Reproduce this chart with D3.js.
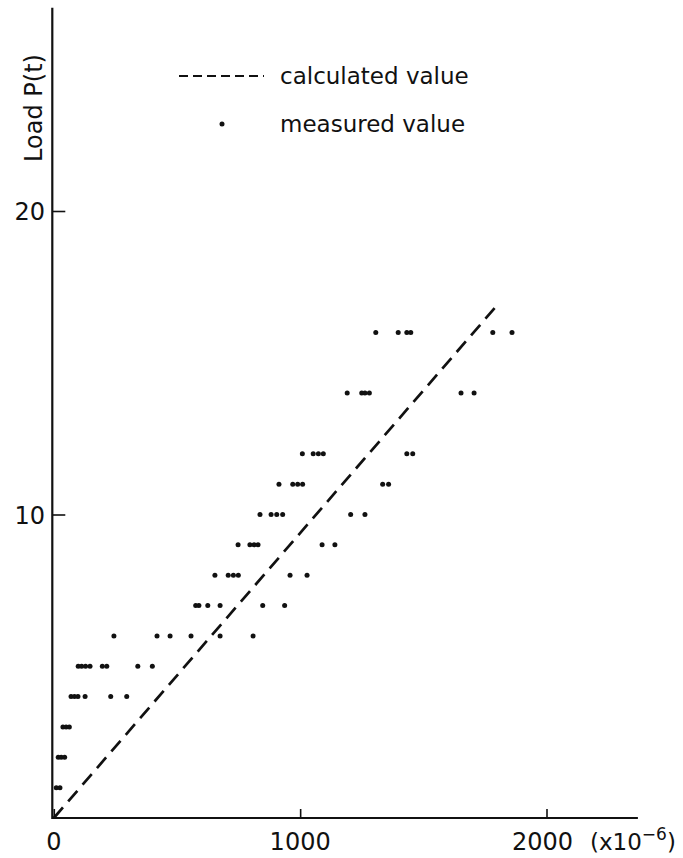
<!DOCTYPE html>
<html>
<head>
<meta charset="utf-8">
<script src="https://cdn.jsdelivr.net/npm/d3@7"></script>
<style>
  html, body { margin: 0; padding: 0; background: #fff; }
  svg { display: block; }
  text { font-family: "DejaVu Sans", sans-serif; fill: #111; }
</style>
</head>
<body>
<svg id="chart" width="683" height="858"></svg>
<script>
// Strain readings (x10^-6) grouped by applied load P (t)
const loadLevels = [1, 2, 3, 4, 5, 6, 7, 8, 9, 10, 11, 12, 14, 16];
const measuredStrains = [
  [10, 25],
  [18, 30, 44],
  [37, 50, 63],
  [70, 84, 98, 127, 231, 296],
  [99, 113, 129, 147, 197, 215, 341, 400],
  [244, 419, 472, 557, 675, 809],
  [576, 589, 625, 675, 848, 937],
  [654, 708, 729, 749, 959, 1028],
  [748, 796, 813, 829, 1089, 1141],
  [837, 882, 905, 929, 1205, 1263],
  [914, 970, 990, 1010, 1335, 1359],
  [1009, 1053, 1074, 1094, 1433, 1457],
  [1191, 1250, 1263, 1281, 1653, 1706],
  [1307, 1398, 1433, 1449, 1782, 1860]
];
// Calculated load-strain relation (straight line through the origin)
const calcStrain = [0, 1800];
const calcLoad = [0, 16.9];

const xTicks = [0, 1000, 2000];
const yTicks = [10, 20];
const xMax = 2371;
const yMax = 26.7;

const svg = d3.select("#chart");

const x = d3.scaleLinear().domain([0, 2000]).range([53.8, 546.5]);
const y = d3.scaleLinear().domain([0, 20]).range([818, 211]);

const measured = [];
loadLevels.forEach((p, i) => measuredStrains[i].forEach(s => measured.push({ s, p })));

// Axes: plain frame lines with short inward ticks
const xAxis = d3.axisBottom(x).tickValues(xTicks).tickSize(-9).tickFormat("");
const yAxis = d3.axisLeft(y).tickValues(yTicks).tickSize(-13).tickFormat("");

const gx = svg.append("g").attr("transform", `translate(0,${y(0)})`).call(xAxis);
const gy = svg.append("g").attr("transform", `translate(${x(0) - 1.5},0)`).call(yAxis);
[gx, gy].forEach(g => {
  g.select(".domain").remove();
  g.selectAll(".tick line").attr("stroke", "#111").attr("stroke-width", 1.6);
});

svg.append("line")
  .attr("x1", x(0) - 1.5).attr("x2", x(xMax))
  .attr("y1", y(0)).attr("y2", y(0))
  .attr("stroke", "#111").attr("stroke-width", 2.2);
svg.append("line")
  .attr("x1", x(0) - 1.5).attr("x2", x(0) - 1.5)
  .attr("y1", y(0) + 1).attr("y2", y(yMax))
  .attr("stroke", "#111").attr("stroke-width", 2.2);

// Tick labels
svg.append("g").selectAll("text").data(xTicks).join("text")
  .attr("x", d => x(d) - (d === 2000 ? 4 : 0)).attr("y", 850)
  .attr("text-anchor", "middle")
  .attr("font-size", 24)
  .text(d => d);

svg.append("text")
  .attr("x", 590).attr("y", 850)
  .attr("font-size", 23)
  .html('(x10<tspan dy="-10" font-size="17">−6</tspan><tspan dy="10">)</tspan>');

svg.append("g").selectAll("text").data(yTicks).join("text")
  .attr("x", 45).attr("y", d => y(d) + 9)
  .attr("text-anchor", "end")
  .attr("font-size", 24)
  .text(d => d);

svg.append("text")
  .attr("transform", `translate(42,108) rotate(-90)`)
  .attr("text-anchor", "middle")
  .attr("font-size", 24)
  .text("Load P(t)");

// Calculated line
svg.append("line")
  .attr("x1", x(calcStrain[0])).attr("y1", y(calcLoad[0]))
  .attr("x2", x(calcStrain[1])).attr("y2", y(calcLoad[1]))
  .attr("stroke", "#111").attr("stroke-width", 2.7)
  .attr("stroke-dasharray", "14,8");

// Measured points
svg.append("g").selectAll("circle").data(measured).join("circle")
  .attr("cx", d => x(d.s)).attr("cy", d => y(d.p))
  .attr("r", 2.5).attr("fill", "#111");

// Legend
const legend = svg.append("g");
legend.append("line")
  .attr("x1", 179).attr("x2", 264).attr("y1", 76).attr("y2", 76)
  .attr("stroke", "#111").attr("stroke-width", 2)
  .attr("stroke-dasharray", "9,5");
legend.append("text").attr("x", 280).attr("y", 84).attr("font-size", 23).text("calculated value");
legend.append("circle").attr("cx", 222).attr("cy", 124).attr("r", 2.5).attr("fill", "#111");
legend.append("text").attr("x", 280).attr("y", 132).attr("font-size", 23).text("measured value");
</script>
</body>
</html>
